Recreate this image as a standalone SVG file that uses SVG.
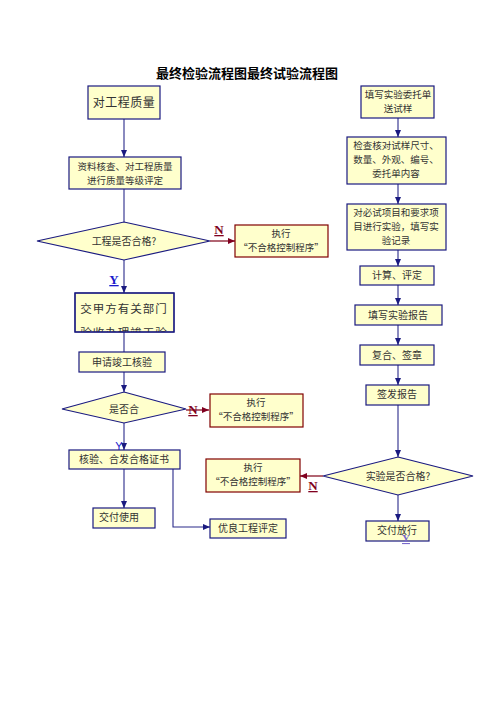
<svg xmlns="http://www.w3.org/2000/svg" width="496" height="702" viewBox="0 0 496 702">
<style>
text{font-family:"Noto Sans CJK SC","Noto Sans CJK TC",sans-serif;fill:#333;text-anchor:middle;font-size:10px}
.s{font-size:9.5px}
.box{fill:#ffffcc;stroke:#1a1a80;stroke-width:1.2}
.rbox{fill:#ffffcc;stroke:#800000;stroke-width:1.2}
.ln{stroke:#2a2a8a;stroke-width:1.1;fill:none}
.rl{stroke:#993344;stroke-width:1.5;fill:none}
.n{fill:#800020;font-family:"Liberation Serif",serif;font-weight:bold;font-size:13px;text-decoration:underline}
.y{fill:#1a1acc;font-family:"Liberation Serif",serif;font-weight:bold;font-size:13px;text-decoration:underline}
</style>
<defs>
<marker id="a" markerWidth="8" markerHeight="8" refX="7" refY="4" orient="auto" markerUnits="userSpaceOnUse"><path d="M0,1 L7,4 L0,7 z" fill="#1a1a80"/></marker>
<marker id="ar" markerWidth="8" markerHeight="8" refX="7" refY="4" orient="auto" markerUnits="userSpaceOnUse"><path d="M0,1 L7,4 L0,7 z" fill="#800020"/></marker>
<clipPath id="c3"><rect x="75" y="293" width="99" height="39"/></clipPath>
</defs>
<rect width="496" height="702" fill="#fff"/>
<text x="247" y="78" style="font-size:13px;font-weight:bold;fill:#000">最终检验流程图最终试验流程图</text>

<g id="connectors">
<path class="ln" d="M124,119 V157" marker-end="url(#a)"/>
<path class="ln" d="M124,189 V222"/>
<path class="rl" d="M210,241 H235" marker-end="url(#ar)"/>
<path class="ln" d="M124,260 V293" marker-end="url(#a)"/>
<path class="ln" d="M124,332 V352"/>
<path class="ln" d="M124,372 V392" marker-end="url(#a)"/>
<path class="rl" d="M186,410 H209" marker-end="url(#ar)"/>
<path class="ln" d="M124,423 V450" marker-end="url(#a)"/>
<path class="ln" d="M124,469 V508" marker-end="url(#a)"/>
<path class="ln" d="M173,469 V527 H210" marker-end="url(#a)"/>
<path class="ln" d="M398,118 V137" marker-end="url(#a)"/>
<path class="ln" d="M398,184 V204" marker-end="url(#a)"/>
<path class="ln" d="M398,250 V266" marker-end="url(#a)"/>
<path class="ln" d="M398,285 V305" marker-end="url(#a)"/>
<path class="ln" d="M398,325 V345" marker-end="url(#a)"/>
<path class="ln" d="M398,365 V385" marker-end="url(#a)"/>
<path class="ln" d="M398,405 V457" marker-end="url(#a)"/>
<path class="rl" d="M323,476 H300" marker-end="url(#ar)"/>
<path class="ln" d="M398,495 V521" marker-end="url(#a)"/>
<text class="n" x="219" y="234">N</text>
<text class="y" x="114" y="284">Y</text>
<text class="n" x="193" y="414">N</text>
<text x="119" y="450" style="fill:#1a1acc;font-family:'Liberation Sans',sans-serif;font-size:11px">Y</text>
<text class="n" x="313" y="490">N</text>
</g>

<g id="n1"><rect class="box" x="88" y="86" width="72" height="33"/><text x="124" y="107" style="font-size:12px;letter-spacing:0.5px">对工程质量</text></g>
<g id="n2"><rect class="box" x="69" y="157" width="112" height="32"/><text x="125" y="170" class="s">资料核查、对工程质量</text><text x="125" y="184" class="s">进行质量等级评定</text></g>
<g id="d1"><polygon class="box" points="124,222 210,241 124,260 37,241"/><text x="124" y="245">工程是否合格?</text></g>
<g id="r1"><rect class="rbox" x="235" y="225" width="93" height="32"/><text x="281" y="237" class="s">执行</text><text x="281" y="251" class="s">“不合格控制程序”</text></g>
<g id="n3"><rect class="box" x="75" y="293" width="99" height="39"/><g clip-path="url(#c3)"><text x="124" y="313" style="font-size:11.5px;letter-spacing:1px">交甲方有关部门</text><text x="124" y="337" style="font-size:11.5px;letter-spacing:1px">验收办理竣工验</text></g><rect x="75" y="293" width="99" height="39" fill="none" stroke="#1a1a80" stroke-width="1.2"/></g>
<g id="n4"><rect class="box" x="79" y="352" width="86" height="20"/><text x="122" y="366">申请竣工核验</text></g>
<g id="d2"><polygon class="box" points="124,392 186,409 124,423 62,409"/><text x="124" y="413">是否合</text></g>
<g id="r2"><rect class="rbox" x="210" y="394" width="93" height="33"/><text x="256" y="406" class="s">执行</text><text x="256" y="420" class="s">“不合格控制程序”</text></g>
<g id="n5"><rect class="box" x="69" y="450" width="111" height="19"/><text x="124" y="463">核验、合发合格证书</text></g>
<g id="n6"><rect class="box" x="93" y="508" width="62" height="20"/><text x="119" y="521">交付使用</text></g>
<g id="n7"><rect class="box" x="210" y="519" width="76" height="19"/><text x="248" y="532">优良工程评定</text></g>

<g id="m1"><rect class="box" x="361" y="86" width="73" height="32"/><text x="398" y="98" class="s">填写实验委托单</text><text x="398" y="112" class="s">送试样</text></g>
<g id="m2"><rect class="box" x="347" y="137" width="99" height="47"/><text x="396" y="149" class="s">检查核对试样尺寸、</text><text x="396" y="163" class="s">数量、外观、编号、</text><text x="396" y="177" class="s">委托单内容</text></g>
<g id="m3"><rect class="box" x="347" y="204" width="99" height="46"/><text x="396" y="216" class="s">对必试项目和要求项</text><text x="396" y="230" class="s">目进行实验，填写实</text><text x="396" y="244" class="s">验记录</text></g>
<g id="m4"><rect class="box" x="360" y="266" width="74" height="19"/><text x="397" y="279">计算、评定</text></g>
<g id="m5"><rect class="box" x="355" y="305" width="87" height="20"/><text x="398" y="319">填写实验报告</text></g>
<g id="m6"><rect class="box" x="360" y="345" width="74" height="20"/><text x="397" y="359">复合、签章</text></g>
<g id="m7"><rect class="box" x="366" y="385" width="63" height="20"/><text x="397" y="398">签发报告</text></g>
<g id="d3"><polygon class="box" points="398,457 473,476 398,495 323,476"/><text x="398" y="480">实验是否合格?</text></g>
<g id="r3"><rect class="rbox" x="206" y="459" width="94" height="33"/><text x="253" y="471" class="s">执行</text><text x="253" y="485" class="s">“不合格控制程序”</text></g>
<g id="m8"><rect class="box" x="366" y="521" width="63" height="20"/><text x="397" y="534">交付放行</text><text x="406" y="542" style="fill:#7a6acc;font-family:'Liberation Serif',serif;font-weight:bold;font-size:11px;text-decoration:underline">Y</text></g>
</svg>
